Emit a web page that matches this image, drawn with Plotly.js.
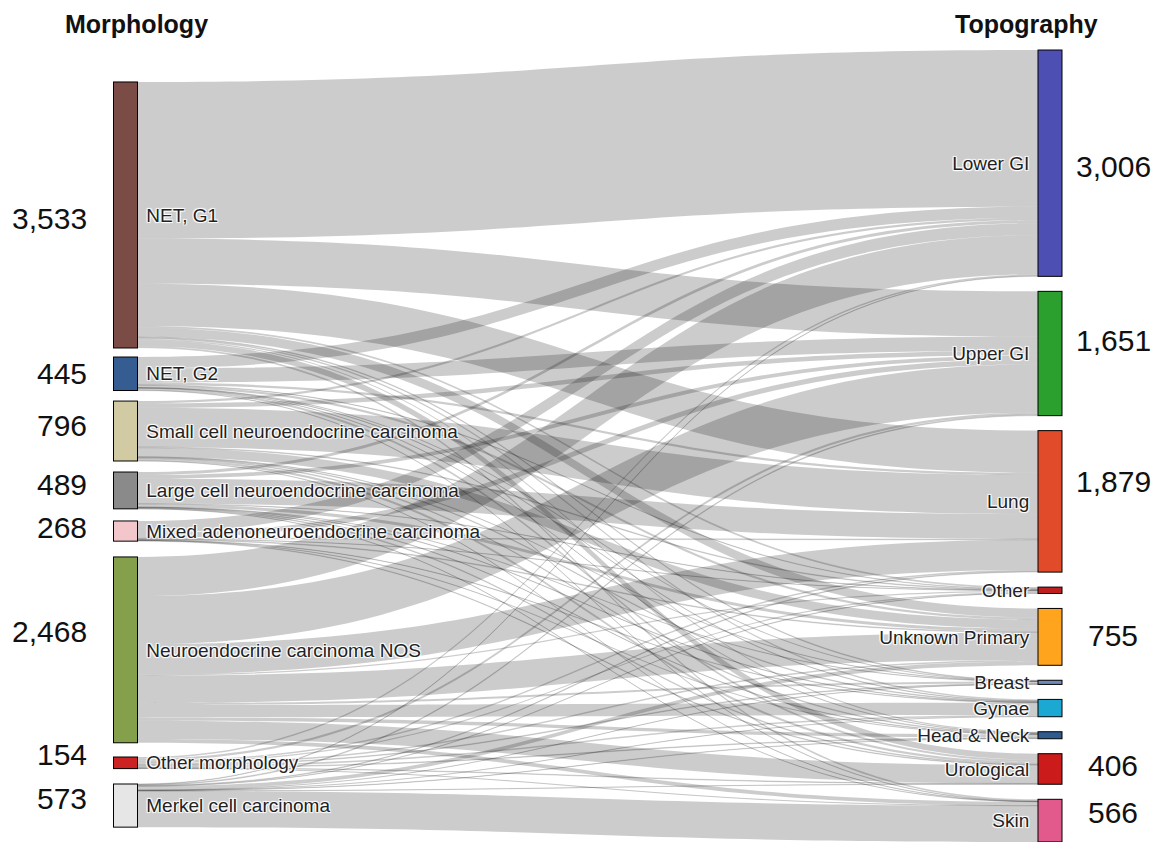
<!DOCTYPE html>
<html>
<head>
<meta charset="utf-8">
<script src="https://cdn.plot.ly/plotly-3.0.1.min.js"></script>
<style>
  html, body { margin: 0; padding: 0; background: #fff; }
  #chart { width: 1158px; height: 842px; }
</style>
</head>
<body>
<div id="chart"></div>
<script>
// ---- Data ----
var morphology = [
  "NET, G1",
  "NET, G2",
  "Small cell neuroendocrine carcinoma",
  "Large cell neuroendocrine carcinoma",
  "Mixed adenoneuroendocrine carcinoma",
  "Neuroendocrine carcinoma NOS",
  "Other morphology",
  "Merkel cell carcinoma"
];
var topography = [
  "Lower GI", "Upper GI", "Lung", "Other", "Unknown Primary",
  "Breast", "Gynae", "Head & Neck", "Urological", "Skin"
];
// flows from each morphology to topography (order as in topography)
var flowNetG1   = [2080, 600, 560, 25, 120, 10, 20, 15, 80, 23];
var flowNetG2   = [150, 190, 30, 5, 30, 2, 5, 3, 25, 5];
var flowSmall   = [30, 60, 520, 10, 120, 3, 10, 10, 30, 3];
var flowLarge   = [40, 50, 330, 5, 40, 2, 5, 5, 10, 2];
var flowMixed   = [160, 70, 10, 3, 10, 0, 5, 2, 8, 0];
var flowNOS     = [520, 640, 400, 17, 365, 26, 163, 44, 242, 51];
var flowOtherM  = [20, 30, 20, 15, 20, 10, 20, 9, 8, 2];
var flowMerkel  = [6, 11, 9, 5, 50, 2, 2, 5, 3, 480];
var flows = [flowNetG1, flowNetG2, flowSmall, flowLarge, flowMixed, flowNOS, flowOtherM, flowMerkel];

// topography nodes whose totals are printed
var labelledTopography = ["Lower GI", "Upper GI", "Lung", "Unknown Primary", "Urological", "Skin"];

// ---- Styles / layout ----
var morphColors = ["#7b4b45", "#365d92", "#d1caa3", "#8a8a8a", "#f2c6ca", "#84a04a", "#cc2222", "#e6e6e6"];
var topoColors  = ["#4d50b2", "#2ba02e", "#e24b29", "#c01f1f", "#ffa41c", "#6f8ab9", "#1ba8d2", "#2f5b8f", "#cb1b1b", "#e15a8b"];
var morphY = [0.2083, 0.4088, 0.4811, 0.5561, 0.6074, 0.7574, 0.9000, 0.9540];
var topoY  = [0.1429, 0.3832, 0.5699, 0.6822, 0.7410, 0.7984, 0.8309, 0.8652, 0.9078, 0.9730];
var leftX = 125.5 / 1158, rightX = 1050 / 1158;
// label pixel centres (y) for the totals
var morphNumY = [218, 373, 425, 484, 527, 631, 754, 798];
var topoNumY  = {"Lower GI": 166, "Upper GI": 340, "Lung": 482, "Unknown Primary": 635, "Urological": 765, "Skin": 812};

var W = 1158, H = 842, T = 50;
var NB = "\u00A0";
var LINK_COLOR = "rgba(0,0,0,0.2)", THIN_LINK_COLOR = "rgba(0,0,0,0.12)";

// ---- Build ----
var nM = morphology.length;
var labels = morphology.map(function(m) { return NB + m; })
  .concat(topography.map(function(t) { return t + NB; }));
var colors = morphColors.concat(topoColors);
var xs = [], ys = [];
morphology.forEach(function(_, i) { xs.push(leftX); ys.push(morphY[i]); });
topography.forEach(function(_, j) { xs.push(rightX); ys.push(topoY[j]); });

var src = [], tgt = [], val = [], lcol = [];
var morphTot = morphology.map(function() { return 0; });
var topoTot = topography.map(function() { return 0; });
flows.forEach(function(row, i) {
  row.forEach(function(v, j) {
    morphTot[i] += v; topoTot[j] += v;
    if (v > 0) {
      src.push(i); tgt.push(nM + j); val.push(v);
      lcol.push(v < 14 ? THIN_LINK_COLOR : LINK_COLOR);
    }
  });
});

function darker(hex) {
  var r = parseInt(hex.substr(1,2),16), g = parseInt(hex.substr(3,2),16), b = parseInt(hex.substr(5,2),16);
  return "rgb(" + Math.round(r*0.6) + "," + Math.round(g*0.6) + "," + Math.round(b*0.6) + ")";
}

var trace = {
  type: "sankey",
  arrangement: "fixed",
  domain: {x: [0, 1], y: [0, 1]},
  node: {
    label: labels,
    color: colors,
    x: xs, y: ys,
    pad: 15,
    thickness: 24,
    line: {color: colors.map(darker), width: 1},
    hoverinfo: "none"
  },
  link: {
    source: src, target: tgt, value: val,
    color: lcol,
    line: {width: 0},
    hoverinfo: "none"
  },
  textfont: {family: "Liberation Sans, Arial, sans-serif", size: 19, color: "#222"}
};

var fmt = function(n) { return n.toLocaleString("en-US"); };
var py = function(p) { return (H - p) / (H - T); };

var annotations = [];
morphology.forEach(function(m, i) {
  annotations.push({
    text: fmt(morphTot[i]), xref: "paper", yref: "paper",
    x: 89 / W, y: py(morphNumY[i]), xanchor: "right", yanchor: "middle",
    showarrow: false, font: {family: "Liberation Sans, Arial, sans-serif", size: 30, color: "#111"}
  });
});
topography.forEach(function(t, j) {
  if (labelledTopography.indexOf(t) < 0) return;
  annotations.push({
    text: fmt(topoTot[j]), xref: "paper", yref: "paper",
    x: 1113 / W, y: py(topoNumY[t]), xanchor: "center", yanchor: "middle",
    showarrow: false, font: {family: "Liberation Sans, Arial, sans-serif", size: 30, color: "#111"}
  });
});
annotations.push({
  text: "<b>Morphology</b>", xref: "paper", yref: "paper",
  x: 136 / W, y: py(24), xanchor: "center", yanchor: "middle",
  showarrow: false, font: {family: "Liberation Sans, Arial, sans-serif", size: 25, color: "#111"}
});
annotations.push({
  text: "<b>Topography</b>", xref: "paper", yref: "paper",
  x: 1026 / W, y: py(24), xanchor: "center", yanchor: "middle",
  showarrow: false, font: {family: "Liberation Sans, Arial, sans-serif", size: 25, color: "#111"}
});

var layout = {
  width: W, height: H,
  margin: {l: 0, r: 0, t: T, b: 0},
  paper_bgcolor: "#fff",
  font: {family: "Liberation Sans, Arial, sans-serif"},
  annotations: annotations,
  showlegend: false
};

Plotly.newPlot("chart", [trace], layout, {displayModeBar: false, staticPlot: true});
</script>
</body>
</html>
